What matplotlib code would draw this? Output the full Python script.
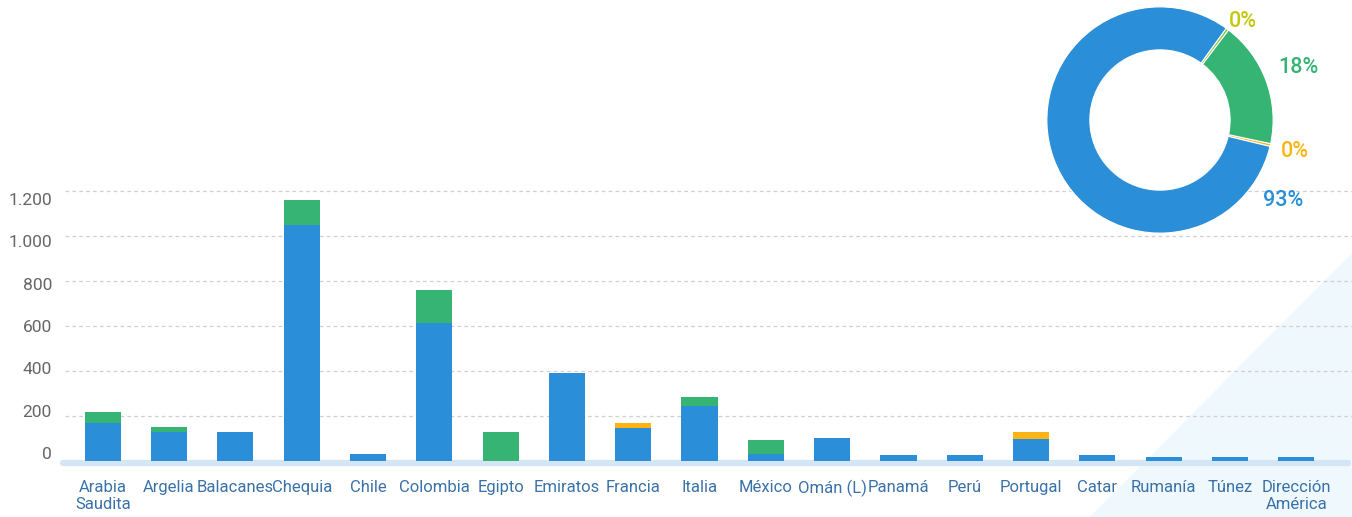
import matplotlib

matplotlib.use("Agg")
import matplotlib.pyplot as plt
from matplotlib.patches import Polygon

plt.rcParams["font.family"] = ["Roboto", "DejaVu Sans"]

# --- data -------------------------------------------------------------
categories = [
    "Arabia\nSaudita", "Argelia", "Balacanes", "Chequia", "Chile", "Colombia",
    "Egipto", "Emiratos", "Francia", "Italia", "México", "Omán (L)", "Panamá",
    "Perú", "Portugal", "Catar", "Rumanía", "Túnez", "Dirección\nAmérica",
]
blue_vals = [168, 129, 129, 1048, 31, 615, 0, 392, 146, 244, 31, 102, 27,
             27, 98, 27, 18, 18, 18]
green_vals = [49, 22, 0, 114, 0, 143, 129, 0, 0, 40, 62, 0, 0,
              0, 0, 0, 0, 0, 0]
yellow_vals = [0, 0, 0, 0, 0, 0, 0, 0, 22, 0, 0, 0, 0,
               0, 31, 0, 0, 0, 0]
y_ticks = [0, 200, 400, 600, 800, 1000, 1200]
y_tick_labels = ["0", "200", "400", "600", "800", "1.000", "1.200"]

donut_shares = [0.4, 18, 0.4, 81.2]          # yellow, green, olive, blue
donut_labels = ["0%", "18%", "0%", "93%"]

_STYLE = {
    "blue": "#2b8ed8",
    "green": "#36b474",
    "yellow": "#fcb415",
    "olive": "#8dc63f",
    "olive_text": "#c3c80c",
    "grid": "#d0d0d0",
    "base": "#d4e6f6",
    "xlabel": "#3a72a8",
    "ylabel": "#666666",
    "tri": "#eef8fd",
}

fig = plt.figure(figsize=(13.52, 5.17), dpi=100)
fig.patch.set_facecolor("white")

# light background triangle, bottom right (behind everything)
fig.patches.append(Polygon([(1.0, 0.51), (1.0, 0.0), (0.806, 0.0)],
                           closed=True, transform=fig.transFigure,
                           facecolor=_STYLE["tri"], edgecolor="none",
                           zorder=-5))

# --- bar chart --------------------------------------------------------
ax = fig.add_axes([63 / 1352, 0.104, 1285 / 1352, 0.570])
ax.patch.set_alpha(0)
xs = list(range(len(categories)))
width = 0.545
ax.bar(xs, blue_vals, width, color=_STYLE["blue"], zorder=3)
ax.bar(xs, green_vals, width, bottom=blue_vals, color=_STYLE["green"], zorder=3)
stack = [b + g for b, g in zip(blue_vals, green_vals)]
ax.bar(xs, yellow_vals, width, bottom=stack, color=_STYLE["yellow"], zorder=3)

ax.set_xlim(-0.6, len(categories) - 1 + 0.78)
ax.set_ylim(-10, 1300)
ax.set_yticks(y_ticks)
ax.set_yticklabels([])
ax.tick_params(axis="y", length=0)
for value in y_ticks[1:]:
    ax.axhline(value, xmin=0.0015, xmax=1.05, color=_STYLE["grid"],
               linestyle=(0, (3, 2.5)), linewidth=0.9, zorder=2, clip_on=False)
# thick pale baseline just under the bar feet
ax.axhline(-9, color=_STYLE["base"], linewidth=4.5, zorder=2.5,
           solid_capstyle="round", clip_on=False)

ax.set_xticks(xs)
ax.set_xticklabels(categories, fontsize=12, color=_STYLE["xlabel"],
                   linespacing=1.15)
ax.tick_params(axis="x", length=0, pad=12)
for side in ("top", "right", "left", "bottom"):
    ax.spines[side].set_visible(False)

# y labels sit on a slightly different scale than the grid
lab = ax.twinx()
lab.set_ylim(-48.4, 1344.1)
lab.yaxis.tick_left()
lab.set_yticks(y_ticks)
lab.set_yticklabels(y_tick_labels, fontsize=12.5, color=_STYLE["ylabel"])
lab.tick_params(axis="y", length=0, pad=8)
for side in ("top", "right", "left", "bottom"):
    lab.spines[side].set_visible(False)
lab.patch.set_alpha(0)

# --- donut ------------------------------------------------------------
pax = fig.add_axes([979 / 1352, 216 / 517, 362 / 1352, 362 / 517])
pax.patch.set_alpha(0)
colors = [_STYLE["yellow"], _STYLE["green"], _STYLE["olive"], _STYLE["blue"]]
pax.pie(donut_shares, colors=colors, startangle=-13.5, counterclock=True,
        wedgeprops={"width": 0.38, "edgecolor": "white", "linewidth": 0.8})
pax.set_xlim(-1.6, 1.6)
pax.set_ylim(-1.6, 1.6)
pax.set_aspect("equal")

label_pos = [(1.19, -0.28), (1.22, 0.46), (0.73, 0.87), (1.09, -0.71)]
label_colors = [_STYLE["yellow"], _STYLE["green"], _STYLE["olive_text"],
                _STYLE["blue"]]
for text, (lx, ly), col in zip(donut_labels, label_pos, label_colors):
    pax.text(lx, ly, text, ha="center", va="center", fontsize=15.5,
             fontweight="medium", color=col)

fig.savefig("out.png", dpi=100, facecolor="white")
